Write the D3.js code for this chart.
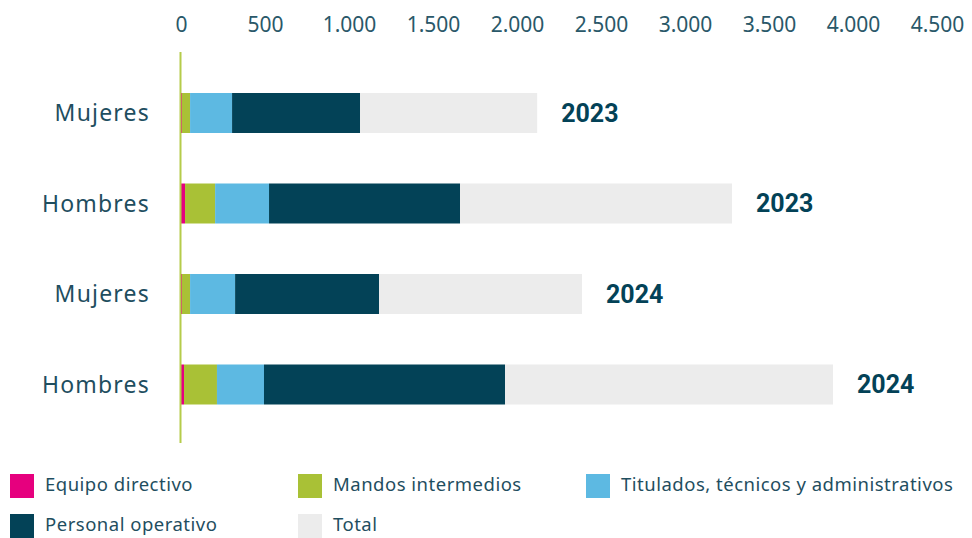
<!DOCTYPE html>
<html>
<head>
<meta charset="utf-8">
<script src="https://cdn.jsdelivr.net/npm/d3@7"></script>
<style>
  body { margin: 0; background: #fff; }
  text { font-family: "Noto Sans", sans-serif; }
</style>
</head>
<body>
<div id="chart"></div>
<script>
// categories (rows, top to bottom)
var rowIds = ["m2023", "h2023", "m2024", "h2024"];
var rowLabels = ["Mujeres", "Hombres", "Mujeres", "Hombres"];
var rowYears = ["2023", "2023", "2024", "2024"];

// series
var seriesNames = ["Equipo directivo", "Mandos intermedios", "Titulados, técnicos y administrativos", "Personal operativo", "Total"];
var directivo = [6, 24, 6, 18];
var mandos = [48, 179, 48, 196];
var titulados = [250, 321, 268, 280];
var operativo = [762, 1137, 857, 1435];
var total = [1054, 1619, 1208, 1952];

var tickValues = [0, 500, 1000, 1500, 2000, 2500, 3000, 3500, 4000, 4500];
var colors = ["#e6007e", "#a9c136", "#5db9e2", "#034257", "#ececec"];

var svgWidth = 972, svgHeight = 538;

var svg = d3.select("#chart").append("svg")
  .attr("width", svgWidth)
  .attr("height", svgHeight);

// build rows for the stack
var rows = rowIds.map(function (id, i) {
  return { id: id, s0: directivo[i], s1: mandos[i], s2: titulados[i], s3: operativo[i], s4: total[i] };
});
var keys = ["s0", "s1", "s2", "s3", "s4"];
var stacked = d3.stack().keys(keys)(rows);

var x = d3.scaleLinear().domain([0, 4500]).range([181, 937]);
var y = d3.scaleBand().domain(rowIds).range([67.75, 429.75]).paddingInner(0.558).paddingOuter(0.279);

var es = d3.formatLocale({ decimal: ",", thousands: ".", grouping: [3], currency: ["", "€"] });
var fmt = es.format(",");

// top axis
var xAxis = svg.append("g")
  .attr("transform", "translate(0, 30)")
  .call(d3.axisTop(x).tickValues(tickValues).tickFormat(fmt).tickSize(0).tickPadding(0));
xAxis.select(".domain").remove();
xAxis.selectAll("text")
  .style("font-family", "'Noto Sans', sans-serif")
  .style("font-size", "21px")
  .attr("fill", "#2a5869")
  .attr("dy", "0.1em");

// bars
svg.append("g").selectAll("g")
  .data(stacked)
  .join("g")
  .attr("fill", function (d, i) { return colors[i]; })
  .selectAll("rect")
  .data(function (d) { return d; })
  .join("rect")
  .attr("x", function (d) { return x(d[0]); })
  .attr("width", function (d) { return x(d[1]) - x(d[0]); })
  .attr("y", function (d) { return y(d.data.id); })
  .attr("height", y.bandwidth());

// left axis line
svg.append("line")
  .attr("x1", 180.5).attr("x2", 180.5)
  .attr("y1", 52).attr("y2", 443)
  .attr("stroke", "#b5cc4a")
  .attr("stroke-width", 2);

// row labels
svg.append("g").selectAll("text")
  .data(rowIds)
  .join("text")
  .attr("x", 150)
  .attr("y", function (d) { return y(d) + y.bandwidth() / 2; })
  .attr("dy", "0.35em")
  .attr("text-anchor", "end")
  .style("font-size", "23px")
  .style("letter-spacing", "1.2px")
  .attr("fill", "#1f4e5f")
  .text(function (d, i) { return rowLabels[i]; });

// year labels at end of bars
var last = stacked[stacked.length - 1];
svg.append("g").selectAll("text")
  .data(last)
  .join("text")
  .attr("x", function (d) { return x(d[1]) + 24; })
  .attr("y", function (d) { return y(d.data.id) + y.bandwidth() / 2; })
  .attr("dy", "0.35em")
  .style("font-family", "Roboto, sans-serif")
  .style("font-weight", "bold")
  .style("font-size", "25px")
  .attr("fill", "#034257")
  .text(function (d, i) { return rowYears[i]; });

// legend
var legendPos = [[10, 474], [298, 474], [586, 474], [10, 514], [298, 514]];
var legend = svg.append("g").selectAll("g")
  .data(seriesNames)
  .join("g")
  .attr("transform", function (d, i) { return "translate(" + legendPos[i][0] + "," + legendPos[i][1] + ")"; });
legend.append("rect")
  .attr("width", 24).attr("height", 24)
  .attr("fill", function (d, i) { return colors[i]; });
legend.append("text")
  .attr("x", 35).attr("y", 11)
  .attr("dy", "0.35em")
  .style("font-size", "18.5px")
  .style("letter-spacing", "0.5px")
  .attr("fill", "#1f4e5f")
  .text(function (d) { return d; });
</script>
</body>
</html>
